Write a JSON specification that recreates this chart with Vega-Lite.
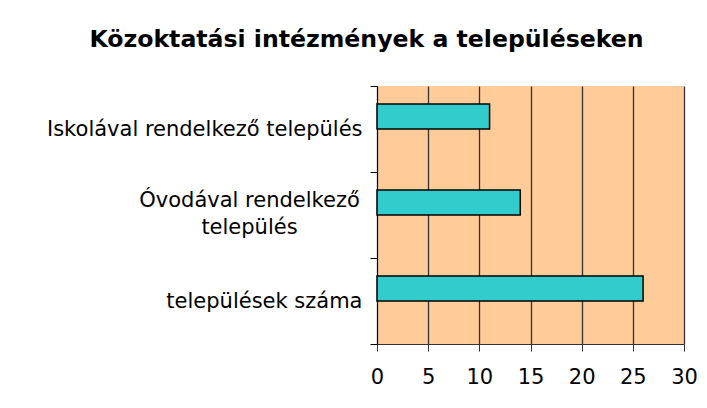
{
  "$schema": "https://vega.github.io/schema/vega-lite/v6.json",
  "width": 307,
  "height": 258,
  "autosize": {"type": "none"},
  "padding": {"left": 377, "top": 86, "right": 23, "bottom": 64},
  "background": "white",
  "title": {
    "text": "Közoktatási intézmények a településeken",
    "anchor": "middle",
    "frame": "group",
    "dx": -164,
    "offset": 4,
    "baseline": "alphabetic",
    "font": "DejaVu Sans",
    "fontSize": 23.6,
    "fontWeight": "bold",
    "color": "black"
  },
  "data": {
    "values": [
      {"category": "Iskolával rendelkező település", "value": 11, "series": "a"},
      {"category": "Óvodával rendelkező település", "value": 14, "series": "a"},
      {"category": "települések száma", "value": 26, "series": "a"}
    ]
  },
  "mark": {"type": "bar", "color": "#33CCCC", "stroke": "black", "strokeWidth": 1.5},
  "encoding": {
    "y": {
      "field": "category",
      "type": "nominal",
      "sort": null,
      "scale": {"paddingInner": 0, "paddingOuter": 0},
      "axis": {
        "title": null,
        "tickBand": "extent",
        "grid": false,
        "domainColor": "black",
        "tickColor": "black",
        "tickSize": 7,
        "labelFont": "DejaVu Sans",
        "labelFontSize": 21,
        "labelColor": "black",
        "labelLineHeight": 27,
        "labelLimit": 400,
        "labelPadding": {"condition": {"test": "datum.value == 'Óvodával rendelkező település'", "value": 121}, "value": 8},
        "labelAlign": {"condition": {"test": "datum.value == 'Óvodával rendelkező település'", "value": "center"}, "value": "right"},
        "labelOffset": {"condition": {"test": "datum.value == 'Óvodával rendelkező település'", "value": -15}, "value": 0},
        "labelExpr": "datum.value == 'Óvodával rendelkező település' ? ['Óvodával rendelkező', 'település'] : datum.label"
      }
    },
    "yOffset": {
      "field": "series",
      "type": "nominal",
      "scale": {"domain": ["a", "b"], "paddingInner": 0, "paddingOuter": 0.72}
    },
    "x": {
      "field": "value",
      "type": "quantitative",
      "scale": {"domain": [0, 30], "nice": false},
      "axis": {
        "title": null,
        "values": [0, 5, 10, 15, 20, 25, 30],
        "grid": true,
        "gridColor": "#333333",
        "gridWidth": 1.3,
        "gridOpacity": 1,
        "domainColor": "#333",
        "tickColor": "#333",
        "tickSize": 7,
        "labelFont": "DejaVu Sans",
        "labelFontSize": 21,
        "labelColor": "black",
        "labelPadding": 15,
        "labelFlush": false
      }
    }
  },
  "config": {
    "view": {"fill": "#FFCC99", "stroke": null}
  }
}
